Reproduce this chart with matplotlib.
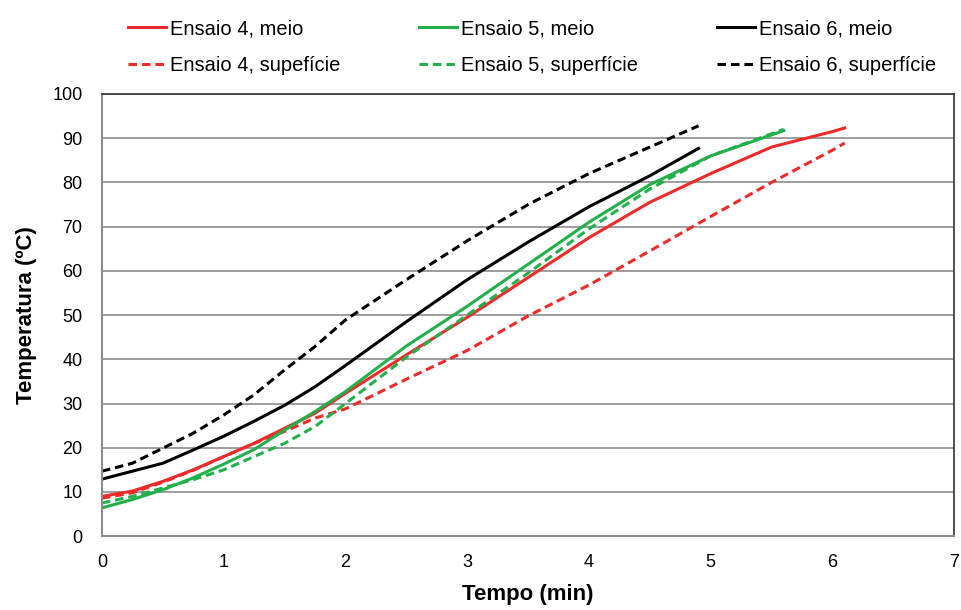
import matplotlib.pyplot as plt

plt.rcParams['font.family'] = ['Liberation Sans', 'DejaVu Sans']

# tempo (min) e temperatura (ºC)
t4 = [0, 0.25, 0.5, 0.75, 1, 1.25, 1.5, 1.75, 2, 2.5, 3, 3.5, 4, 4.5, 5, 5.5, 6, 6.1]
e4_meio = [9, 10.2, 12.4, 15, 18, 21, 24.4, 27.8, 32.3, 41, 49.5, 58.5, 67.5, 75.5, 82, 88, 91.5, 92.3]
e4_sup = [8.6, 9.8, 12.2, 14.9, 18, 21, 23.7, 26.7, 28.8, 35.5, 42, 49.8, 56.8, 64.5, 72.3, 80, 87.3, 88.9]

t5 = [0, 0.25, 0.5, 0.75, 1, 1.25, 1.5, 1.75, 2, 2.5, 3, 3.5, 4, 4.5, 5, 5.6]
e5_meio = [6.4, 8.3, 10.5, 13.2, 16.3, 19.6, 24, 28.2, 32.7, 43, 52, 61.5, 71, 79.5, 86, 91.7]
e5_sup = [7.5, 9, 10.9, 12.8, 15, 18, 21, 24.8, 30, 40.5, 50, 59.5, 69.5, 78.5, 86, 92]

t6 = [0, 0.25, 0.5, 0.75, 1, 1.25, 1.5, 1.75, 2, 2.5, 3, 3.5, 4, 4.5, 4.9]
e6_meio = [12.9, 14.7, 16.5, 19.5, 22.6, 26, 29.6, 33.8, 38.6, 48.5, 58, 66.5, 74.5, 81.5, 87.7]
e6_sup = [14.7, 16.5, 19.9, 23.3, 27.4, 32, 37.6, 42.9, 48.9, 58, 66.8, 75, 82, 88, 92.8]

red = '#ee2a2a'
green = '#22b04b'
black = '#000000'

fig = plt.figure(figsize=(9.62, 6.10), dpi=100)
ax = fig.add_axes([0.106, 0.121, 0.886, 0.725])

lw = 2.2
dash = (0, (2.8, 1.6))
ax.plot(t4, e4_meio, color=red, lw=lw, label='Ensaio 4, meio')
ax.plot(t4, e4_sup, color=red, lw=lw, ls=dash, label='Ensaio 4, supefície')
ax.plot(t5, e5_meio, color=green, lw=lw, label='Ensaio 5, meio')
ax.plot(t5, e5_sup, color=green, lw=lw, ls=dash, label='Ensaio 5, superfície')
ax.plot(t6, e6_meio, color=black, lw=lw, label='Ensaio 6, meio')
ax.plot(t6, e6_sup, color=black, lw=lw, ls=dash, label='Ensaio 6, superfície')

ax.set_xlim(0, 7)
ax.set_ylim(0, 100)
ax.set_xticks(range(0, 8))
ax.set_yticks(range(0, 101, 10))
ax.yaxis.grid(True, color='#8c8c8c', lw=1.2)
ax.set_axisbelow(True)
ax.tick_params(labelsize=13, length=0)
ax.tick_params(axis='y', pad=14)
ax.tick_params(axis='x', pad=13)

for s in ['left', 'bottom']:
    ax.spines[s].set_color('#8c8c8c')
    ax.spines[s].set_linewidth(1.5)
for s in ['top', 'right']:
    ax.spines[s].set_color('#333333')
    ax.spines[s].set_linewidth(1.2)

ax.set_xlabel('Tempo (min)', fontsize=16, fontweight='bold', labelpad=9)
ax.set_ylabel('Temperatura (ºC)', fontsize=16, fontweight='bold', labelpad=11)

fig.legend(loc='upper left', bbox_to_anchor=(0.133, 0.968), ncol=3, frameon=False,
           fontsize=14.5, handlelength=1.9, handletextpad=0.2, columnspacing=3.9,
           labelspacing=0.85, borderpad=0, borderaxespad=0)

fig.savefig('out.png', dpi=100)
